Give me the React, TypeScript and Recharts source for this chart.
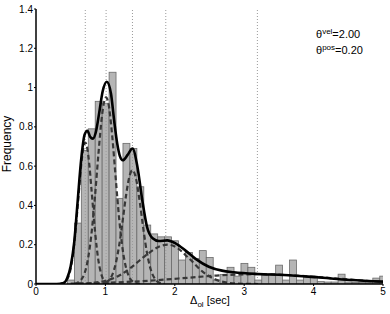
import { ComposedChart, Bar, Line, XAxis, YAxis, ReferenceLine } from "recharts";

// histogram bins (centre of each 0.1 s bin) and their heights
const binCenters = [
  0.5, 0.6, 0.7, 0.8, 0.9, 1.0, 1.1, 1.2, 1.3, 1.4, 1.5, 1.6, 1.7, 1.8, 1.9,
  2.0, 2.1, 2.2, 2.3, 2.4, 2.5, 2.6, 2.7, 2.8, 2.9, 3.0, 3.1, 3.2, 3.3, 3.4,
  3.5, 3.6, 3.7, 3.8, 3.9, 4.0, 4.1, 4.2, 4.3, 4.4, 4.5, 4.6, 4.7, 4.8, 4.9, 5.0,
];
const binFreq = [
  0.02, 0.31, 0.68, 0.79, 0.93, 0.92, 1.078, 0.436, 0.716, 0.69, 0.495, 0.3,
  0.255, 0.24, 0.24, 0.22, 0.122, 0.16, 0.13, 0.17, 0.135, 0.02, 0.048, 0.085,
  0.04, 0.105, 0.085, 0.02, 0.05, 0.052, 0.096, 0.02, 0.122, 0.02, 0.04, 0.04,
  0.012, 0.01, 0.01, 0.05, 0.01, 0.008, 0.008, 0.01, 0.03, 0.04,
];

const xTicks = [0, 1, 2, 3, 4, 5];
const yTicks = [0, 0.2, 0.4, 0.6, 0.8, 1, 1.2, 1.4];
const modeLines = [0.71, 1.01, 1.39, 1.87, 3.19];

// fitted mixture (solid black)
const mixX = [
  0, 0.3, 0.4, 0.45, 0.5, 0.55, 0.6, 0.65, 0.7, 0.74, 0.78, 0.82, 0.86, 0.91,
  0.96, 1.02, 1.08, 1.125, 1.17, 1.21, 1.25, 1.32, 1.39, 1.46, 1.53, 1.6, 1.68,
  1.77, 1.89, 2.01, 2.155, 2.3, 2.49, 2.68, 2.85, 3.2, 3.57, 4.05, 4.53, 5.0,
];
const mixY = [
  0, 0, 0.005, 0.03, 0.09, 0.21, 0.42, 0.63, 0.76, 0.78, 0.75, 0.74, 0.77, 0.87,
  0.98, 1.03, 0.97, 0.835, 0.716, 0.65, 0.63, 0.657, 0.69, 0.6, 0.43, 0.29, 0.233,
  0.219, 0.222, 0.207, 0.17, 0.128, 0.088, 0.068, 0.06, 0.051, 0.046, 0.034, 0.02, 0.012,
];

// mixture components (dashed)
const compAX = [0.35, 0.4, 0.45, 0.5, 0.55, 0.6, 0.65, 0.68, 0.71, 0.74, 0.77, 0.8, 0.85, 0.9, 0.95, 1.0, 1.05, 1.1];
const compAY = [0.001, 0.006, 0.024, 0.079, 0.2, 0.393, 0.601, 0.688, 0.72, 0.688, 0.601, 0.48, 0.27, 0.118, 0.04, 0.011, 0.002, 0];

const compBX = [0.55, 0.6, 0.65, 0.7, 0.75, 0.8, 0.85, 0.9, 0.95, 0.98, 1.01, 1.04, 1.1, 1.15, 1.2, 1.25, 1.3, 1.35, 1.4, 1.45, 1.5];
const compBY = [0.002, 0.007, 0.021, 0.055, 0.129, 0.258, 0.446, 0.664, 0.854, 0.925, 0.95, 0.925, 0.747, 0.532, 0.327, 0.173, 0.079, 0.031, 0.011, 0.003, 0];

const compCX = [1.0, 1.05, 1.1, 1.15, 1.2, 1.25, 1.3, 1.35, 1.39, 1.43, 1.5, 1.55, 1.6, 1.65, 1.7, 1.75, 1.8, 1.85];
const compCY = [0.007, 0.019, 0.048, 0.106, 0.2, 0.325, 0.457, 0.553, 0.58, 0.553, 0.405, 0.272, 0.157, 0.078, 0.034, 0.0125, 0.004, 0];

const compDX = [0.6, 0.8, 1.0, 1.2, 1.4, 1.6, 1.8, 1.9, 2.0, 2.2, 2.4, 2.6, 2.8, 3.0, 3.2];
const compDY = [0.001, 0.005, 0.016, 0.043, 0.092, 0.151, 0.194, 0.2, 0.191, 0.132, 0.063, 0.021, 0.005, 0.001, 0];

const compEX = [0.5, 1.0, 1.4, 1.8, 2.2, 2.6, 3.0, 3.19, 3.6, 4.0, 4.4, 4.8, 5.0];
const compEY = [0.002, 0.006, 0.012, 0.021, 0.032, 0.043, 0.049, 0.05, 0.046, 0.037, 0.026, 0.015, 0.011];

const toPoints = (xs: number[], ys: number[]) => xs.map((x, i) => ({ x, y: ys[i] }));

const bins = binCenters.map((x, i) => ({ x, freq: binFreq[i] }));
const components = [
  toPoints(compAX, compAY),
  toPoints(compBX, compBY),
  toPoints(compCX, compCY),
  toPoints(compDX, compDY),
  toPoints(compEX, compEY),
];
const mixture = toPoints(mixX, mixY);

const FONT = "'Liberation Sans', Arial, Helvetica, sans-serif";

const CHART_W = 390;
const Y_AXIS_W = 36;
const RIGHT_MARGIN = 7;
const BIN_WIDTH = 0.1;
// one histogram bin in pixels (plot width / x range)
const BIN_PX = (BIN_WIDTH * (CHART_W - Y_AXIS_W - RIGHT_MARGIN)) / 5;

// bars touch each other like a hist() plot
function HistBar(props: any) {
  const { x, y, width, height } = props;
  if (!height || height <= 0) return null;
  const cx = x + width / 2;
  return (
    <rect
      x={cx - BIN_PX / 2}
      y={y}
      width={BIN_PX}
      height={height}
      fill="#b5b5b5"
      stroke="#6a6a6a"
      strokeWidth={0.8}
    />
  );
}

export default function App() {
  return (
    <div
      style={{
        position: "absolute",
        left: 0,
        top: 0,
        width: 390,
        height: 314,
        background: "#fff",
        fontFamily: FONT,
        color: "#000",
      }}
    >
      <ComposedChart
        width={CHART_W}
        height={314}
        data={bins}
        margin={{ top: 9, right: RIGHT_MARGIN, bottom: 0, left: 0 }}
        style={{ fontFamily: FONT }}
      >
        <XAxis
          xAxisId="bins"
          dataKey="x"
          type="number"
          domain={[0, 5]}
          ticks={xTicks}
          allowDataOverflow
          height={30}
          tickSize={2}
          tickMargin={2}
          axisLine={{ stroke: "#000", strokeWidth: 1.5 }}
          tickLine={{ stroke: "#000" }}
          tick={{ fill: "#000", fontSize: 10 }}
        />
        <XAxis
          xAxisId="curve"
          dataKey="x"
          type="number"
          domain={[0, 5]}
          allowDataOverflow
          hide
        />
        <YAxis
          type="number"
          domain={[0, 1.4]}
          ticks={yTicks}
          allowDataOverflow
          width={Y_AXIS_W}
          tickSize={2}
          tickMargin={1}
          axisLine={{ stroke: "#000", strokeWidth: 1.5 }}
          tickLine={{ stroke: "#000" }}
          tick={{ fill: "#000", fontSize: 10 }}
        />
        <Bar
          xAxisId="bins"
          dataKey="freq"
          shape={<HistBar />}
          isAnimationActive={false}
        />
        {modeLines.map((m) => (
          <ReferenceLine
            key={m}
            xAxisId="bins"
            x={m}
            stroke="#9a9a9a"
            strokeDasharray="1 2"
            strokeWidth={1}
          />
        ))}
        {components.map((pts, i) => (
          <Line
            key={i}
            xAxisId="curve"
            data={pts}
            dataKey="y"
            type="monotone"
            stroke="#383838"
            strokeWidth={2.2}
            strokeDasharray="5 3"
            dot={false}
            activeDot={false}
            isAnimationActive={false}
          />
        ))}
        <Line
          xAxisId="curve"
          data={mixture}
          dataKey="y"
          type="monotone"
          stroke="#000"
          strokeWidth={2.6}
          dot={false}
          activeDot={false}
          isAnimationActive={false}
        />
      </ComposedChart>

      {/* y label */}
      <div
        style={{
          position: "absolute",
          left: 7 - 50,
          top: 144 - 7,
          width: 100,
          height: 14,
          lineHeight: "14px",
          textAlign: "center",
          fontSize: 12,
          transform: "rotate(-90deg)",
        }}
      >
        Frequency
      </div>

      {/* x label */}
      <div
        style={{
          position: "absolute",
          left: 210 - 50,
          top: 293,
          width: 100,
          textAlign: "center",
          fontSize: 11,
          lineHeight: "14px",
        }}
      >
        Δ<sub style={{ fontSize: 8, verticalAlign: "-3px" }}>ol</sub> [sec]
      </div>

      {/* parameters */}
      <div
        style={{
          position: "absolute",
          left: 316,
          top: 25,
          fontSize: 11,
          lineHeight: "14px",
          whiteSpace: "nowrap",
        }}
      >
        <div>
          θ<sup style={{ fontSize: 8, verticalAlign: "4px" }}>vel</sup>=2.00
        </div>
        <div>
          θ<sup style={{ fontSize: 8, verticalAlign: "4px" }}>pos</sup>=0.20
        </div>
      </div>
    </div>
  );
}
